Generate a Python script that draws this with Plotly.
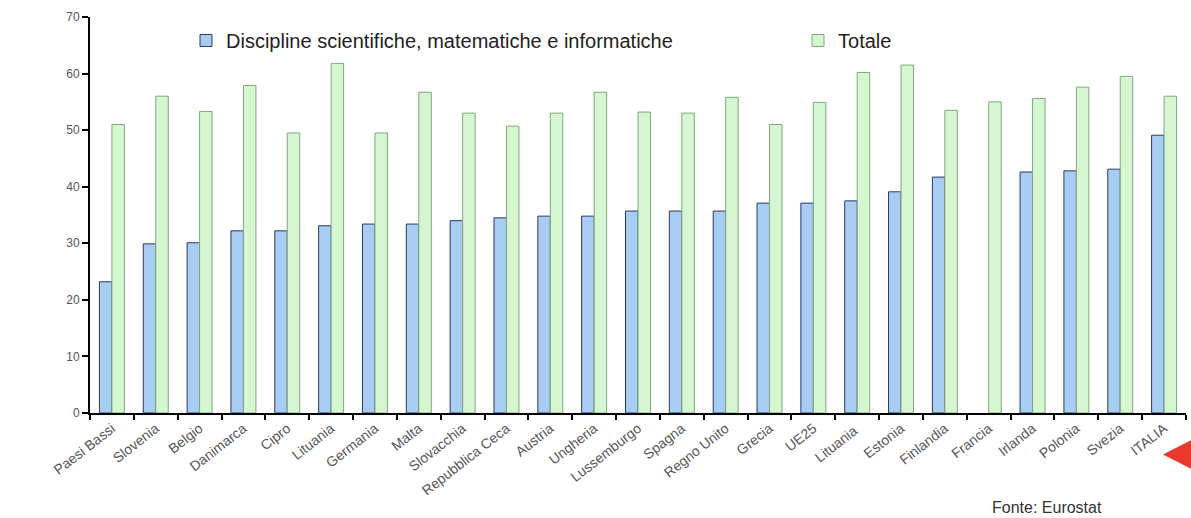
import plotly.graph_objects as go

paesi = ["Paesi Bassi", "Slovenia", "Belgio", "Danimarca", "Cipro", "Lituania", "Germania",
         "Malta", "Slovacchia", "Repubblica Ceca", "Austria", "Ungheria", "Lussemburgo",
         "Spagna", "Regno Unito", "Grecia", "UE25", "Lituania ", "Estonia", "Finlandia",
         "Francia", "Irlanda", "Polonia", "Svezia", "ITALIA"]

scientifiche = [23.2, 29.9, 30.1, 32.2, 32.2, 33.1, 33.4, 33.4, 34.0, 34.5, 34.8, 34.8, 35.7,
                35.7, 35.7, 37.1, 37.1, 37.5, 39.1, 41.7, None, 42.6, 42.8, 43.1, 49.1]

totale = [51.0, 56.0, 53.3, 57.9, 49.5, 61.8, 49.5, 56.7, 53.0, 50.7, 53.0, 56.7, 53.2,
          53.0, 55.8, 51.0, 54.9, 60.2, 61.5, 53.5, 55.0, 55.6, 57.6, 59.5, 56.0]

y_ticks = [0, 10, 20, 30, 40, 50, 60, 70]

fig = go.Figure()
fig.add_trace(go.Bar(
    x=paesi, y=scientifiche, name="Discipline scientifiche, matematiche e informatiche",
    marker=dict(color="#a9cdf2", line=dict(color="#2a3a66", width=1)),
    legend="legend",
))
fig.add_trace(go.Bar(
    x=paesi, y=totale, name="Totale",
    marker=dict(color="#d6f6d2", line=dict(color="#7fa87f", width=1)),
    legend="legend2",
))

legend_common = dict(orientation="h", yanchor="top", y=0.99, xanchor="left",
                     font=dict(size=20, color="#222"), bgcolor="rgba(0,0,0,0)")

fig.update_layout(
    width=1191, height=518,
    margin=dict(l=90, r=5, t=17, b=105),
    paper_bgcolor="white", plot_bgcolor="white",
    barmode="group", bargap=0.43, bargroupgap=0,
    font=dict(family="Liberation Sans, Arial, sans-serif", color="#333"),
    legend=dict(x=0.0876, **legend_common),
    legend2=dict(x=0.646, **legend_common),
    showlegend=True,
)
fig.update_xaxes(
    type="category", tickson="boundaries", ticks="outside", ticklen=5, tickwidth=2,
    tickcolor="black", showline=True, linecolor="black", linewidth=2,
    tickangle=-38, tickfont=dict(size=14, color="#555"), showgrid=False,
)
fig.update_yaxes(
    range=[0, 70], tickvals=y_ticks, ticks="outside", ticklen=6, tickwidth=2,
    tickcolor="black", showline=True, linecolor="black", linewidth=2,
    tickfont=dict(size=12, color="#555"), showgrid=False, zeroline=False,
)

fig.add_annotation(text="Fonte: Eurostat", xref="paper", yref="paper", x=0.873, y=-0.239,
                   xanchor="center", yanchor="middle", showarrow=False,
                   font=dict(size=16, color="#333"))

# red pointer arrow at the right
fig.add_shape(type="path", xref="paper", yref="paper",
              path="M 0.979 -0.105 L 1.006 -0.067 L 1.006 -0.143 Z",
              fillcolor="#e8392a", line=dict(width=0), layer="above")

fig.write_html("out.html")
